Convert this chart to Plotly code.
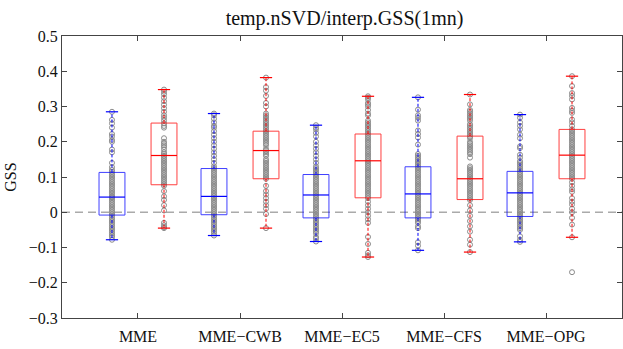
import plotly.graph_objects as go

categories = ["MME", "MME−CWB", "MME−EC5", "MME−CFS", "MME−OPG"]
title_text = "temp.nSVD/interp.GSS(1mn)"

# box statistics: [blue, red] per category
blue_q1 = [-0.008, -0.007, -0.016, -0.016, -0.012]
blue_med = [0.043, 0.045, 0.049, 0.052, 0.055]
blue_q3 = [0.113, 0.124, 0.107, 0.129, 0.116]
blue_lo = [-0.078, -0.066, -0.083, -0.108, -0.084]
blue_hi = [0.285, 0.280, 0.247, 0.326, 0.277]

red_q1 = [0.078, 0.095, 0.041, 0.036, 0.095]
red_med = [0.161, 0.175, 0.146, 0.095, 0.162]
red_q3 = [0.253, 0.230, 0.222, 0.216, 0.235]
red_lo = [-0.045, -0.045, -0.127, -0.113, -0.071]
red_hi = [0.348, 0.382, 0.329, 0.334, 0.386]

# individual GSS values (gray circles)
blue_mme = [0.285, 0.262, 0.252, 0.24, 0.222, 0.215, 0.205, 0.2, 0.178, 0.17, 0.14, 0.128,
            0.12, 0.115, 0.11, 0.105, 0.1, 0.095, 0.09, 0.085, 0.08, 0.075, 0.07, 0.065,
            0.06, 0.055, 0.05, 0.045, 0.043, 0.04, 0.035, 0.03, 0.025, 0.02, 0.015, 0.01,
            0.005, 0.0, -0.005, -0.01, -0.015, -0.02, -0.025, -0.03, -0.035, -0.04, -0.045,
            -0.05, -0.055, -0.06, -0.065, -0.07, -0.078]
red_mme = [0.348, 0.342, 0.335, 0.325, 0.315, 0.305, 0.295, 0.285, 0.275, 0.268, 0.26, 0.252,
           0.245, 0.24, 0.21, 0.2, 0.195, 0.19, 0.185, 0.178, 0.17, 0.165, 0.16, 0.155, 0.15,
           0.145, 0.14, 0.135, 0.13, 0.125, 0.12, 0.115, 0.11, 0.105, 0.1, 0.095, 0.09, 0.085,
           0.08, 0.075, 0.06, 0.045, 0.035, 0.02, 0.005, -0.03, -0.037, -0.042, -0.045]
blue_cwb = [0.28, 0.275, 0.265, 0.255, 0.245, 0.24, 0.23, 0.22, 0.21, 0.2, 0.19, 0.18, 0.17,
            0.16, 0.15, 0.14, 0.13, 0.125, 0.12, 0.115, 0.11, 0.105, 0.1, 0.095, 0.09, 0.085,
            0.08, 0.075, 0.07, 0.065, 0.06, 0.055, 0.05, 0.045, 0.04, 0.035, 0.03, 0.025, 0.02,
            0.015, 0.01, 0.005, 0.0, -0.005, -0.01, -0.015, -0.02, -0.025, -0.03, -0.035, -0.04,
            -0.045, -0.05, -0.055, -0.06, -0.066]
red_cwb = [0.382, 0.355, 0.345, 0.33, 0.31, 0.3, 0.28, 0.275, 0.27, 0.265, 0.26, 0.255, 0.25,
           0.245, 0.24, 0.235, 0.23, 0.225, 0.22, 0.215, 0.21, 0.205, 0.2, 0.195, 0.19, 0.18,
           0.175, 0.17, 0.165, 0.16, 0.15, 0.145, 0.14, 0.135, 0.13, 0.125, 0.12, 0.115, 0.11,
           0.105, 0.1, 0.095, 0.075, 0.06, 0.05, 0.04, 0.03, 0.02, 0.01, -0.005, -0.045]
blue_ec5 = [0.247, 0.24, 0.235, 0.225, 0.215, 0.2, 0.19, 0.18, 0.17, 0.16, 0.15, 0.14, 0.13,
            0.125, 0.12, 0.115, 0.11, 0.105, 0.1, 0.095, 0.09, 0.085, 0.08, 0.075, 0.07, 0.065,
            0.06, 0.055, 0.05, 0.045, 0.04, 0.035, 0.03, 0.025, 0.02, 0.015, 0.01, 0.005, 0.0,
            -0.005, -0.01, -0.015, -0.02, -0.025, -0.03, -0.035, -0.04, -0.045, -0.05, -0.055,
            -0.06, -0.07, -0.075, -0.083]
red_ec5 = [0.329, 0.325, 0.32, 0.31, 0.305, 0.3, 0.29, 0.28, 0.275, 0.26, 0.255, 0.25, 0.245,
           0.24, 0.235, 0.23, 0.225, 0.22, 0.215, 0.21, 0.205, 0.2, 0.195, 0.19, 0.185, 0.18,
           0.175, 0.17, 0.165, 0.16, 0.155, 0.15, 0.145, 0.14, 0.135, 0.13, 0.125, 0.12, 0.115,
           0.11, 0.105, 0.1, 0.095, 0.09, 0.085, 0.08, 0.075, 0.07, 0.065, 0.06, 0.055, 0.05,
           0.045, 0.04, 0.03, 0.02, 0.01, 0.0, -0.01, -0.02, -0.03, -0.07, -0.09, -0.115,
           -0.122, -0.127]
blue_cfs = [0.326, 0.291, 0.275, 0.268, 0.26, 0.232, 0.222, 0.212, 0.192, 0.165, 0.16, 0.155,
            0.15, 0.145, 0.14, 0.135, 0.13, 0.125, 0.12, 0.115, 0.11, 0.105, 0.1, 0.095, 0.09,
            0.085, 0.08, 0.075, 0.07, 0.065, 0.06, 0.055, 0.05, 0.045, 0.04, 0.035, 0.03, 0.025,
            0.02, 0.015, 0.01, 0.005, 0.0, -0.005, -0.01, -0.015, -0.02, -0.025, -0.03, -0.04,
            -0.045, -0.085, -0.095, -0.108]
red_cfs = [0.334, 0.306, 0.29, 0.285, 0.28, 0.275, 0.27, 0.265, 0.26, 0.25, 0.245, 0.24, 0.235,
           0.23, 0.225, 0.22, 0.215, 0.21, 0.2, 0.195, 0.19, 0.185, 0.18, 0.175, 0.17, 0.165,
           0.155, 0.13, 0.125, 0.12, 0.115, 0.11, 0.105, 0.1, 0.095, 0.09, 0.085, 0.08, 0.075,
           0.07, 0.065, 0.06, 0.055, 0.05, 0.045, 0.04, 0.035, 0.02, 0.005, -0.01, -0.025,
           -0.04, -0.055, -0.078, -0.092, -0.113]
blue_opg = [0.277, 0.268, 0.255, 0.245, 0.235, 0.22, 0.21, 0.187, 0.182, 0.163, 0.155, 0.145,
            0.14, 0.135, 0.13, 0.125, 0.12, 0.115, 0.11, 0.105, 0.1, 0.095, 0.09, 0.085, 0.08,
            0.075, 0.07, 0.065, 0.06, 0.055, 0.05, 0.045, 0.04, 0.035, 0.03, 0.025, 0.02, 0.015,
            0.01, 0.005, 0.0, -0.005, -0.01, -0.015, -0.02, -0.025, -0.03, -0.035, -0.04, -0.045,
            -0.05, -0.068, -0.078, -0.084]
red_opg = [0.386, 0.358, 0.338, 0.33, 0.32, 0.296, 0.288, 0.282, 0.263, 0.255, 0.245, 0.235,
           0.23, 0.225, 0.22, 0.215, 0.21, 0.205, 0.2, 0.195, 0.19, 0.185, 0.18, 0.175, 0.17,
           0.165, 0.16, 0.155, 0.15, 0.145, 0.14, 0.135, 0.13, 0.125, 0.12, 0.115, 0.11, 0.105,
           0.1, 0.095, 0.085, 0.075, 0.065, 0.058, 0.04, 0.03, 0.022, 0.01, 0.0, -0.016, -0.035,
           -0.071, -0.17]

blue_points = [blue_mme, blue_cwb, blue_ec5, blue_cfs, blue_opg]
red_points = [red_mme, red_cwb, red_ec5, red_cfs, red_opg]

OFFSET = 0.255
HALF_W = 0.127
CAP_W = 0.06
BLUE = "#0000ff"
RED = "#ff0000"

fig = go.Figure()


def add_box(xc, q1, med, q3, lo, hi, pts, color):
    # points
    fig.add_trace(go.Scatter(
        x=[xc] * len(pts), y=pts, mode="markers",
        marker=dict(symbol="circle-open", size=5, color="#8a8a8a",
                    line=dict(width=1, color="#8a8a8a")),
        hoverinfo="y", showlegend=False))
    # whiskers (dashed)
    fig.add_trace(go.Scatter(
        x=[xc, xc, None, xc, xc], y=[q3, hi, None, q1, lo], mode="lines",
        line=dict(color=color, width=1, dash="3px,2px"), hoverinfo="skip", showlegend=False))
    # caps
    fig.add_trace(go.Scatter(
        x=[xc - CAP_W, xc + CAP_W, None, xc - CAP_W, xc + CAP_W],
        y=[hi, hi, None, lo, lo], mode="lines",
        line=dict(color=color, width=1.2), hoverinfo="skip", showlegend=False))
    # box
    fig.add_trace(go.Scatter(
        x=[xc - HALF_W, xc + HALF_W, xc + HALF_W, xc - HALF_W, xc - HALF_W],
        y=[q1, q1, q3, q3, q1], mode="lines",
        line=dict(color=color, width=1), opacity=0.75, hoverinfo="skip", showlegend=False))
    # median
    fig.add_trace(go.Scatter(
        x=[xc - HALF_W, xc + HALF_W], y=[med, med], mode="lines",
        line=dict(color=color, width=1.2), hoverinfo="skip", showlegend=False))


for i in range(len(categories)):
    add_box(i - OFFSET, blue_q1[i], blue_med[i], blue_q3[i], blue_lo[i], blue_hi[i],
            blue_points[i], BLUE)
    add_box(i + OFFSET, red_q1[i], red_med[i], red_q3[i], red_lo[i], red_hi[i],
            red_points[i], RED)

fig.add_shape(type="line", xref="paper", x0=0, x1=1, yref="y", y0=0, y1=0,
              line=dict(color="#aaaaaa", width=1.3, dash="8px,5px"), layer="below")

font = "Liberation Serif, Times New Roman, serif"
fig.update_layout(
    width=623, height=349,
    margin=dict(l=62, r=1, t=36, b=31),
    paper_bgcolor="white", plot_bgcolor="white",
    font=dict(family=font, size=16, color="#111111"),
    title=dict(text=title_text, x=0.553, xanchor="center", y=0.948, yanchor="middle",
               font=dict(family=font, size=20, color="#111111")),
    xaxis=dict(range=[-0.745, 4.745], tickvals=list(range(len(categories))),
               ticktext=categories, showgrid=False, zeroline=False,
               showline=True, linecolor="#444444", linewidth=1, mirror="ticks",
               ticks="inside", ticklen=5, tickcolor="#444444",
               ticklabelstandoff=4,
               tickfont=dict(family=font, size=16)),
    yaxis=dict(range=[-0.3, 0.5], dtick=0.1, showgrid=False, zeroline=False,
               showline=True, linecolor="#444444", linewidth=1, mirror="ticks",
               ticks="inside", ticklen=5, tickcolor="#444444",
               tickfont=dict(family=font, size=16),
               title=dict(text="GSS", font=dict(family=font, size=16), standoff=8)),
)

fig.write_html("out.html")
